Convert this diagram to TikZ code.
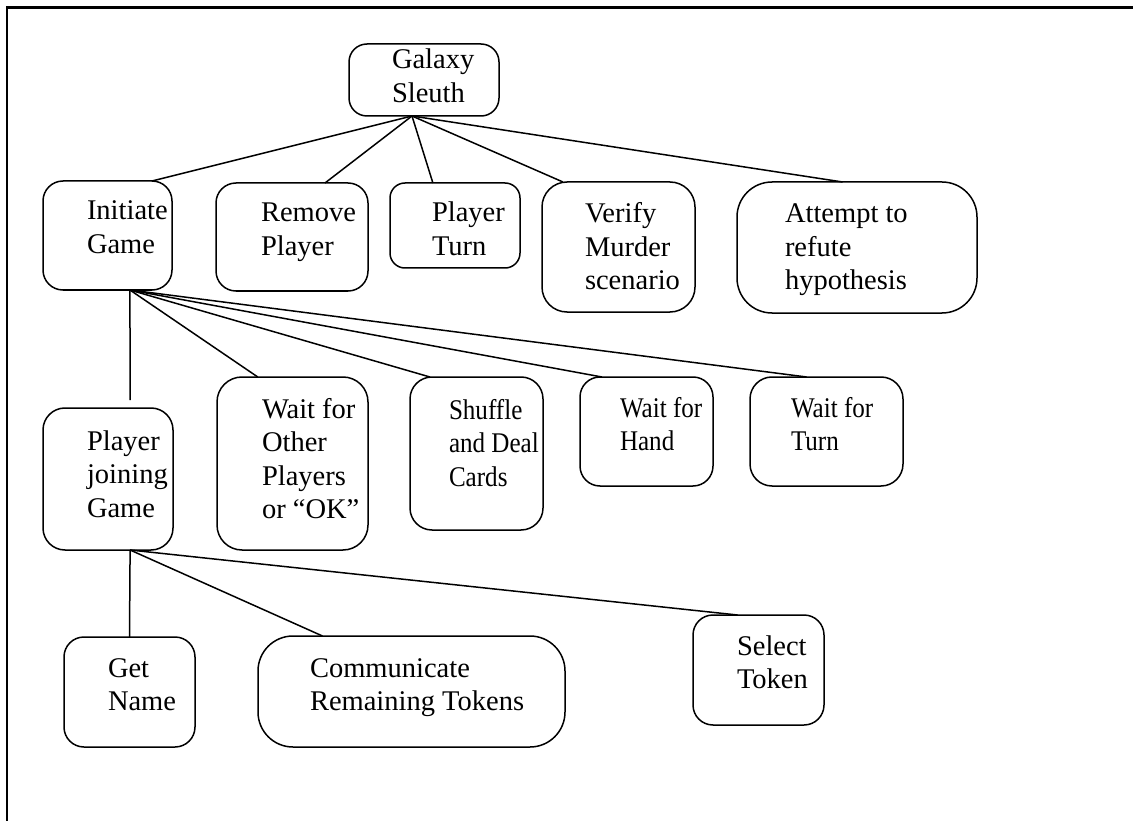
\documentclass[tikz,border=0pt]{standalone}
\usepackage{fontspec}
\setmainfont{Liberation Serif}
\newfontfamily\narrowserif[FakeStretch=0.88]{Liberation Serif}
\usetikzlibrary{calc}
\tikzset{
  box/.style={draw, line width=1.5pt, rounded corners=#1, inner sep=0pt, outer sep=0pt, anchor=north west},
  box/.default=18pt,
  txt/.style={inner sep=0pt, outer sep=0pt, anchor=base west, font=\fontsize{28.5}{33.5}\selectfont},
  narrowtxt/.style={txt, font=\narrowserif\fontsize{28.5}{33.5}\selectfont},
  conn/.style={line width=1.5pt},
  frame/.style={line width=2.7pt},
}
\newcommand\lns[1]{\begin{tabular}[t]{@{}l@{}}#1\end{tabular}}
\begin{document}
\begin{tikzpicture}[x=1pt,y=-1pt]
\useasboundingbox (0,0) rectangle (1133,821);
\draw[frame] (7,821) -- (7,7.7) -- (1133,7.7);

% boxes
\node[box=18pt, minimum width=150pt, minimum height=72pt] (gs) at (349,44) {};
\node[box=20pt, minimum width=129pt, minimum height=109pt] (ig) at (43,181) {};
\node[box=20pt, minimum width=152pt, minimum height=108pt] (rp) at (216,183) {};
\node[box=15pt, minimum width=130pt, minimum height=85pt] (pt) at (390,183) {};
\node[box=25pt, minimum width=153pt, minimum height=130pt] (vm) at (542,182) {};
\node[box=35pt, minimum width=240pt, minimum height=131pt] (at) at (737,182) {};
\node[box=22pt, minimum width=130pt, minimum height=142pt] (pj) at (43,408) {};
\node[box=25pt, minimum width=151pt, minimum height=173pt] (wo) at (217,377) {};
\node[box=22pt, minimum width=133pt, minimum height=153pt] (sd) at (410,377) {};
\node[box=20pt, minimum width=133pt, minimum height=109pt] (wh) at (580,377) {};
\node[box=22pt, minimum width=153pt, minimum height=109pt] (wt) at (750,377) {};
\node[box=20pt, minimum width=131pt, minimum height=110pt] (gn) at (64,637) {};
\node[box=35pt, minimum width=307pt, minimum height=111pt] (ct) at (258,636) {};
\node[box=20pt, minimum width=131pt, minimum height=110pt] (st) at (693,615) {};

% texts
\node[txt] (gs-t) at (392,69) {\lns{Galaxy\\Sleuth}};
\node[txt] (ig-t) at (87,220) {\lns{Initiate\\Game}};
\node[txt] (rp-t) at (261,222) {\lns{Remove\\Player}};
\node[txt] (pt-t) at (432,222) {\lns{Player\\Turn}};
\node[txt] (vm-t) at (585,223) {\lns{Verify\\Murder\\scenario}};
\node[txt] (at-t) at (785,223) {\lns{Attempt to\\refute\\hypothesis}};
\node[txt] (pj-t) at (87,450) {\lns{Player\\joining\\Game}};
\node[txt] (wo-t) at (262,418) {\lns{Wait for\\Other\\Players\\or “OK”}};
\node[narrowtxt] (sd-t) at (449,419) {\lns{Shuffle\\and Deal\\Cards}};
\node[narrowtxt] (wh-t) at (620,417) {\lns{Wait for\\Hand}};
\node[narrowtxt] (wt-t) at (791,417) {\lns{Wait for\\Turn}};
\node[txt] (gn-t) at (108,677) {\lns{Get\\Name}};
\node[txt] (ct-t) at (310,677) {\lns{Communicate\\Remaining Tokens}};
\node[txt] (st-t) at (737,655) {\lns{Select\\Token}};

% connectors
\coordinate (gsr) at ($(gs.south west)!0.42!(gs.south east)$);
\draw[conn] (gsr) -- ($(ig.north west)!0.845!(ig.north east)$);
\draw[conn] (gsr) -- ($(rp.north west)!0.717!(rp.north east)$);
\draw[conn] (gsr) -- ($(pt.north west)!0.33!(pt.north east)$);
\draw[conn] (gsr) -- ($(vm.north west)!0.137!(vm.north east)$);
\draw[conn] (gsr) -- ($(at.north west)!0.44!(at.north east)$);

\coordinate (igr) at ($(ig.south west)!0.674!(ig.south east)$);
\coordinate (pjend) at ($(pj.north west)!0.67!(pj.north east)+(0,-8)$);
\draw[conn] (igr) -- (pjend);
\draw[conn] (igr) -- ($(wo.north west)!0.27!(wo.north east)$);
\draw[conn] (igr) -- ($(sd.north west)!0.15!(sd.north east)$);
\draw[conn] (igr) -- ($(wh.north west)!0.165!(wh.north east)$);
\draw[conn] (igr) -- ($(wt.north west)!0.37!(wt.north east)$);

\coordinate (pjr) at ($(pj.south west)!0.67!(pj.south east)$);
\draw[conn] (pjr) -- ($(gn.north west)!0.5!(gn.north east)$);
\draw[conn] (pjr) -- ($(ct.north west)!0.21!(ct.north east)$);
\draw[conn] (pjr) -- ($(st.north west)!0.34!(st.north east)$);
\end{tikzpicture}
\end{document}
